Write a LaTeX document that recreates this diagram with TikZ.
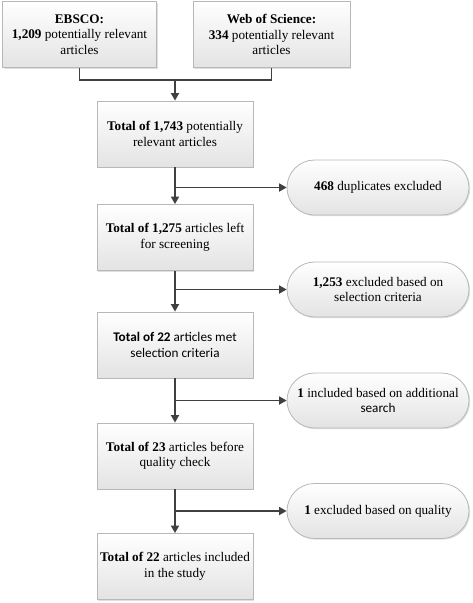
\documentclass[tikz,border=0pt]{standalone}
\usepackage{fontspec}
\setmainfont{Liberation Serif}
\newfontfamily\calfont{Carlito}
\usetikzlibrary{arrows.meta,shadows,shapes.misc}
\definecolor{linec}{HTML}{404040}
\definecolor{bordc}{HTML}{B8B8B8}
\begin{document}
\begin{tikzpicture}[x=1pt,y=-1pt,
  base/.style={draw=bordc, line width=0.8pt, top color=white, bottom color=black!11,
     drop shadow={shadow xshift=1.2pt, shadow yshift=-1.2pt, opacity=0.25},
     align=center, font=\fontsize{13.2}{15.5}\selectfont, inner sep=0pt},
  sqbox/.style={base, rectangle, minimum height=66pt},
  rbox/.style={base, rounded rectangle, minimum width=182pt, minimum height=55pt},
  conn/.style={draw=linec, line width=1.7pt},
  arr/.style={conn, -{Triangle[length=7.5pt,width=8pt]}}]
\useasboundingbox (0,0) rectangle (472,603);
\node[sqbox, minimum width=154pt] (ebsco) at (79.5,34.5) {\textbf{EBSCO:}\\\textbf{1,209} potentially relevant\\articles};
\node[sqbox, minimum width=157pt] (wos) at (271.5,34.5) {\textbf{Web of Science:}\\\textbf{334} potentially relevant\\articles};
\node[sqbox, minimum width=156pt] (b1) at (175,134) {\textbf{Total of 1,743} potentially\\relevant articles};
\node[sqbox, minimum width=156pt] (b2) at (175,237.5) {\textbf{Total of 1,275} articles left\\for screening};
\node[sqbox, minimum width=156pt] (b3) at (175,345) {\calfont\textbf{Total of 22} articles met\\\calfont selection criteria};
\node[sqbox, minimum width=156pt] (b4) at (175,456) {\textbf{Total of 23} articles before\\quality check};
\node[sqbox, minimum width=156pt] (b5) at (175,566.5) {\textbf{Total of 22} articles included\\in the study};
\node[rbox] (r1) at (378,187.5) {\textbf{468} duplicates excluded};
\node[rbox] (r2) at (378,289.5) {\textbf{1,253} excluded based on\\selection criteria};
\node[rbox] (r3) at (378,400.5) {\textbf{1} included based on additional\\{\calfont search}};
\node[rbox] (r4) at (378,511) {\textbf{1} excluded based on quality};
\coordinate (j0) at (175,80);
\draw[conn] (ebsco.south) |- (j0) -| (wos.south);
\draw[arr] (j0) -- (b1.north);
\draw[arr] (b1.south) -- (b2.north);
\draw[arr] (b1.south |- r1.west) -- (r1.west);
\draw[arr] (b2.south) -- (b3.north);
\draw[arr] (b2.south |- r2.west) -- (r2.west);
\draw[arr] (b3.south) -- (b4.north);
\draw[arr] (b3.south |- r3.west) -- (r3.west);
\draw[arr] (b4.south) -- (b5.north);
\draw[arr] (b4.south |- r4.west) -- (r4.west);
\end{tikzpicture}
\end{document}
